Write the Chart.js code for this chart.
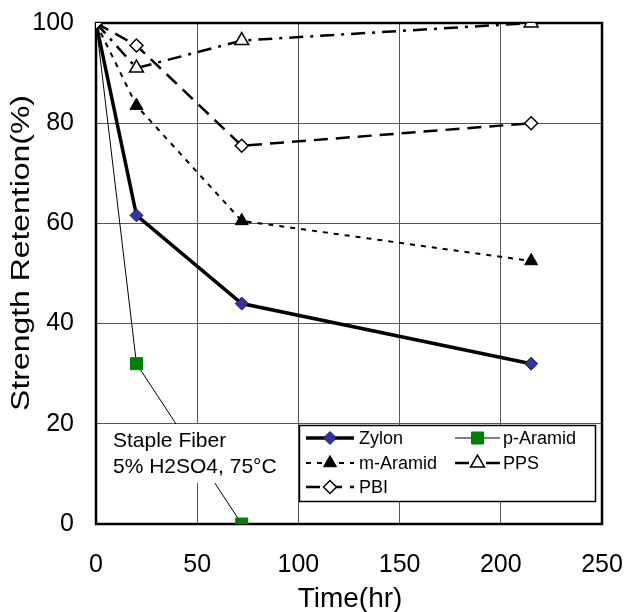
<!DOCTYPE html>
<html>
<head>
<meta charset="utf-8">
<script src="https://cdn.jsdelivr.net/npm/chart.js@4/dist/chart.umd.min.js"></script>
<style>
html,body{margin:0;padding:0;background:#fff;}
#wrap{width:629px;height:612px;}
</style>
</head>
<body>
<div id="wrap"><canvas id="c" width="629" height="612"></canvas></div>
<script>
// ---- data ----
const timeZylon = [0, 20, 72, 215];
const zylon = [100, 61.6, 44, 32];
const timePAramid = [0, 20, 72];
const pAramid = [100, 32, 0];
const timeMAramid = [0, 20, 72, 215];
const mAramid = [100, 83.5, 60.5, 52.5];
const timePPS = [0, 20, 72, 215];
const pps = [100, 91, 96.5, 100];
const timePBI = [0, 20, 72, 215];
const pbi = [100, 95.5, 75.5, 80];
const xTicks = [0, 50, 100, 150, 200, 250];
const yTicks = [0, 20, 40, 60, 80, 100];
const seriesNames = ['Zylon', 'p-Aramid', 'm-Aramid', 'PPS', 'PBI'];
const xTitle = 'Time(hr)';
const yTitle = 'Strength Retention(%)';
const noteLines = ['Staple Fiber', '5% H2SO4, 75°C'];

const FONT = "'Liberation Sans', Arial, Helvetica, sans-serif";
const pts = (xs, ys) => xs.map((x, i) => ({x: x, y: ys[i]}));

const styles = [
  {borderWidth: 3.5, dash: [], pointStyle: 'rectRot', radius: 6.5, fill: '#333399', stroke: '#1a1a66', pbw: 1, order: 3},
  {borderWidth: 1, dash: [], pointStyle: 'rect', radius: 8.5, fill: '#008000', stroke: '#008000', pbw: 1, order: 4},
  {borderWidth: 2, dash: [5, 6], pointStyle: 'triangle', radius: 7.5, fill: '#000000', stroke: '#000000', pbw: 1, order: 2},
  {borderWidth: 2.5, dash: [14, 7, 3, 7], pointStyle: 'triangle', radius: 8, fill: '#ffffff', stroke: '#000000', pbw: 1.5, order: 1},
  {borderWidth: 2.5, dash: [14, 8], pointStyle: 'rectRot', radius: 6.5, fill: '#ffffff', stroke: '#000000', pbw: 1.5, order: 0}
];
const seriesData = [
  pts(timeZylon, zylon), pts(timePAramid, pAramid), pts(timeMAramid, mAramid),
  pts(timePPS, pps), pts(timePBI, pbi)
];

const datasets = seriesNames.map((n, i) => ({
  label: n,
  data: seriesData[i],
  borderColor: '#000',
  borderWidth: styles[i].borderWidth,
  borderDash: styles[i].dash,
  pointStyle: styles[i].pointStyle,
  pointRadius: styles[i].radius,
  pointHoverRadius: styles[i].radius,
  pointBackgroundColor: styles[i].fill,
  pointBorderColor: styles[i].stroke,
  pointBorderWidth: styles[i].pbw,
  tension: 0,
  fill: false,
  order: styles[i].order
}));

function marker(ctx, st, x, y) {
  ctx.save();
  ctx.setLineDash([]);
  ctx.fillStyle = st.fill;
  ctx.strokeStyle = st.stroke;
  ctx.lineWidth = st.pbw;
  if (Chart.helpers && Chart.helpers.drawPoint) {
    Chart.helpers.drawPoint(ctx, {pointStyle: st.pointStyle, radius: st.radius, rotation: 0, borderWidth: st.pbw}, x, y);
  }
  ctx.restore();
}

const deco = {
  id: 'deco',
  beforeDatasetsDraw(chart) {
    const ctx = chart.ctx, a = chart.chartArea;
    ctx.save();
    ctx.strokeStyle = '#000';
    ctx.lineWidth = 2.5;
    ctx.strokeRect(a.left, a.top, a.right - a.left, a.bottom - a.top);
    ctx.restore();
  },
  afterDatasetsDraw(chart) {
    const ctx = chart.ctx;
    ctx.save();
    // annotation box
    ctx.fillStyle = '#fff';
    ctx.fillRect(107, 424, 188, 59);
    ctx.fillStyle = '#000';
    ctx.font = '21px ' + FONT;
    ctx.textAlign = 'left';
    ctx.textBaseline = 'alphabetic';
    ctx.fillText(noteLines[0], 113, 447);
    ctx.fillText(noteLines[1], 113, 473);
    // legend
    ctx.fillStyle = '#fff';
    ctx.fillRect(299.5, 425.5, 296, 76);
    ctx.strokeStyle = '#000';
    ctx.lineWidth = 1.5;
    ctx.strokeRect(299.5, 425.5, 296, 76);
    const pos = [
      {x1: 306, x2: 354, ty: 438, tx: 359},
      {x1: 455, x2: 500, ty: 438, tx: 503},
      {x1: 306, x2: 354, ty: 463, tx: 359},
      {x1: 455, x2: 500, ty: 463, tx: 503},
      {x1: 306, x2: 354, ty: 487, tx: 359}
    ];
    ctx.font = '18px ' + FONT;
    ctx.textBaseline = 'middle';
    pos.forEach((p, i) => {
      const st = styles[i];
      ctx.save();
      ctx.strokeStyle = '#000';
      ctx.lineWidth = st.borderWidth;
      ctx.setLineDash(st.dash);
      ctx.beginPath();
      ctx.moveTo(p.x1, p.ty);
      ctx.lineTo(p.x2, p.ty);
      ctx.stroke();
      ctx.restore();
      marker(ctx, st, (p.x1 + p.x2) / 2, p.ty);
      ctx.fillStyle = '#000';
      ctx.fillText(seriesNames[i], p.tx, p.ty + 1);
    });
    // axis titles
    ctx.fillStyle = '#000';
    ctx.font = '28px ' + FONT;
    ctx.textAlign = 'center';
    ctx.textBaseline = 'alphabetic';
    ctx.fillText(xTitle, 350, 607);
    ctx.save();
    ctx.translate(29, 253);
    ctx.rotate(-Math.PI / 2);
    ctx.scale(1.14, 0.95);
    ctx.fillText(yTitle, 0, 0);
    ctx.restore();
    ctx.restore();
  }
};

function zeroPad(s) { s.paddingTop = 0; s.paddingBottom = 0; s.paddingLeft = 0; s.paddingRight = 0; }

new Chart(document.getElementById('c'), {
  type: 'line',
  data: {datasets: datasets},
  options: {
    responsive: false,
    devicePixelRatio: 1,
    animation: false,
    layout: {padding: {left: 0, right: 27, top: 23, bottom: 0}},
    plugins: {legend: {display: false}, tooltip: {enabled: false}},
    scales: {
      x: {
        type: 'linear', min: 0, max: 250,
        afterBuildTicks: s => { s.ticks = xTicks.map(v => ({value: v})); },
        afterFit: s => { s.height = 88; zeroPad(s); },
        ticks: {color: '#000', font: {family: FONT, size: 25}, padding: 26, maxRotation: 0},
        grid: {color: '#555', lineWidth: 1, drawTicks: false},
        border: {display: false}
      },
      y: {
        type: 'linear', min: 0, max: 100,
        afterBuildTicks: s => { s.ticks = yTicks.map(v => ({value: v})); },
        afterFit: s => { s.width = 96; zeroPad(s); },
        ticks: {color: '#000', font: {family: FONT, size: 25}, padding: 22},
        grid: {color: '#555', lineWidth: 1, drawTicks: false},
        border: {display: false}
      }
    }
  },
  plugins: [deco]
});
</script>
</body>
</html>
